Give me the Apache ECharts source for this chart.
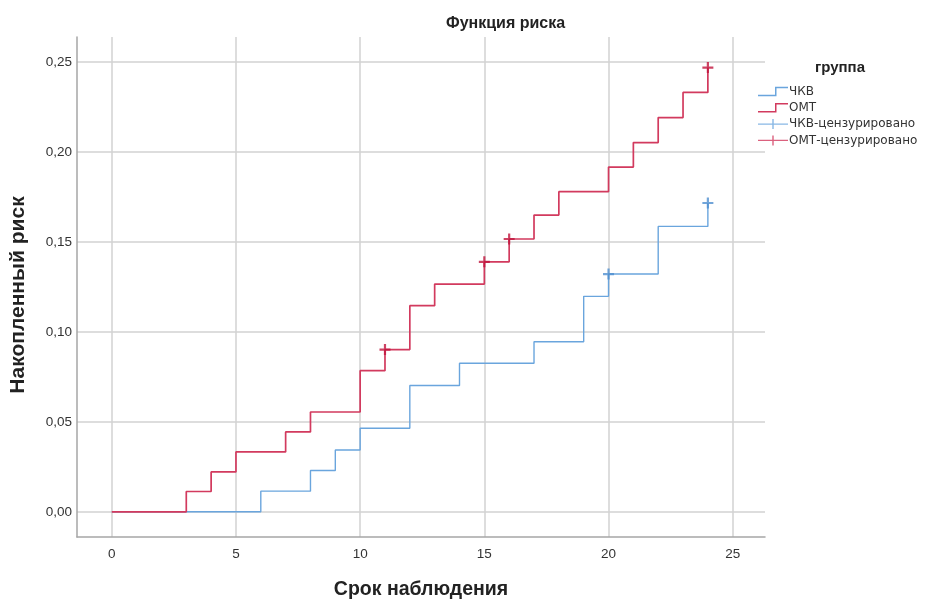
<!DOCTYPE html>
<html>
<head>
<meta charset="utf-8">
<script src="https://cdn.jsdelivr.net/npm/echarts@6/dist/echarts.min.js"></script>
<style>html,body{margin:0;padding:0;background:#fff}#c{width:925px;height:599px}</style>
</head>
<body>
<div id="c"></div>
<script>
// Kaplan-Meier cumulative hazard
const pciTimes   = [0, 6, 8, 9, 10, 12, 14, 17, 19, 20, 22, 24];
const pciRisk    = [0, 0.0115, 0.023, 0.0344, 0.0465, 0.0702, 0.0826, 0.0946, 0.1198, 0.1322, 0.1587, 0.1717];
const omtTimes   = [0, 3, 4, 5, 7, 8, 10, 11, 12, 13, 15, 16, 17, 18, 20, 21, 22, 23, 24];
const omtRisk    = [0, 0.0113, 0.0222, 0.0333, 0.0444, 0.0555, 0.0785, 0.0902, 0.1146, 0.1266, 0.139, 0.1517, 0.165, 0.178, 0.1917, 0.2053, 0.2192, 0.2332, 0.247];
const pciCensT   = [20, 24];
const pciCensR   = [0.1322, 0.1717];
const omtCensT   = [11, 15, 16, 24];
const omtCensR   = [0.0902, 0.139, 0.1517, 0.247];
const xTicks     = [0, 5, 10, 15, 20, 25];
const yTicks     = [0, 0.05, 0.10, 0.15, 0.20, 0.25];
const names      = ['ЧКВ', 'ОМТ', 'ЧКВ-цензурировано', 'ОМТ-цензурировано'];

const zip = (a, b) => a.map((v, i) => [v, b[i]]);
const blue = '#6aa5dd', red = '#d23a5e', blueD = '#4f8fd0', redD = '#c0143c';
const FONT = 'Liberation Sans, Arial, sans-serif';
const stepIcon = 'path://M0,8.5 L17,8.5 L17,0.5 L30,0.5 L30,2 L18.5,2 L18.5,10 L0,10 Z';
const plusIcon = 'path://M0,4.3 L14.3,4.3 L14.3,0 L15.7,0 L15.7,4.3 L30,4.3 L30,5.7 L15.7,5.7 L15.7,10 L14.3,10 L14.3,5.7 L0,5.7 Z';
const plusSym = 'path://M4,0 L6,0 L6,4 L10,4 L10,6 L6,6 L6,10 L4,10 L4,6 L0,6 L0,4 L4,4 Z';

const chart = echarts.init(document.getElementById('c'), null, {renderer: 'canvas'});
chart.setOption({
  animation: false,
  backgroundColor: '#fff',
  textStyle: {fontFamily: FONT},
  title: [
    {text: 'Функция риска', left: 441, top: 11, textStyle: {fontFamily: FONT, fontSize: 16, fontWeight: 'bold', color: '#222'}},
    {text: 'группа', left: 810, top: 55, textStyle: {fontFamily: FONT, fontSize: 15, fontWeight: 'bold', color: '#222'}}
  ],
  legend: {
    orient: 'vertical', left: 753, top: 80.5, itemWidth: 30, itemHeight: 10, itemGap: 4.3,
    textStyle: {fontFamily: 'DejaVu Sans, sans-serif', fontSize: 12, color: '#333', padding: [0, 0, 0, -4]},
    data: [
      {name: names[0], icon: stepIcon, itemStyle: {color: blue}},
      {name: names[1], icon: stepIcon, itemStyle: {color: red}},
      {name: names[2], icon: plusIcon, itemStyle: {color: blue}},
      {name: names[3], icon: plusIcon, itemStyle: {color: red}}
    ]
  },
  grid: {left: 77, top: 37, width: 688, height: 500, containLabel: false, outerBoundsMode: 'none'},
  xAxis: {
    type: 'value', min: -1.4, max: 26.3,
    name: 'Срок наблюдения', nameLocation: 'middle', nameGap: 43,
    nameTextStyle: {fontFamily: FONT, fontSize: 19.5, fontWeight: 'bold', color: '#222'},
    axisLine: {onZero: false, lineStyle: {color: '#a6a6a6', width: 1.5}},
    axisTick: {show: false, customValues: xTicks},
    axisLabel: {customValues: xTicks, margin: 10, fontSize: 13.5, color: '#333', fontFamily: FONT},
    splitLine: {show: true, lineStyle: {color: '#d2d2d2', width: 1.5}}
  },
  yAxis: {
    type: 'value', min: -0.014, max: 0.264,
    name: 'Накопленный риск', nameLocation: 'middle', nameGap: 48,
    nameTextStyle: {fontFamily: FONT, fontSize: 21, fontWeight: 'bold', color: '#222', padding: [0, 16, 0, 0]},
    axisLine: {show: true, onZero: false, lineStyle: {color: '#a6a6a6', width: 1.5}},
    axisTick: {show: false, customValues: yTicks},
    axisLabel: {customValues: yTicks, margin: 5, fontSize: 13.5, color: '#333', fontFamily: FONT,
      formatter: v => v.toFixed(2).replace('.', ',')},
    splitLine: {show: true, lineStyle: {color: '#d2d2d2', width: 1.5}}
  },
  series: [
    {name: names[0], type: 'line', step: 'end', symbol: 'none', data: zip(pciTimes, pciRisk),
     itemStyle: {color: blue}, lineStyle: {color: blue, width: 1.4}, z: 3},
    {name: names[1], type: 'line', step: 'end', symbol: 'none', data: zip(omtTimes, omtRisk),
     itemStyle: {color: red}, lineStyle: {color: red, width: 1.7}, z: 4},
    {name: names[2], type: 'scatter', symbol: plusSym, symbolSize: 11, data: zip(pciCensT, pciCensR),
     itemStyle: {color: blueD}, z: 5},
    {name: names[3], type: 'scatter', symbol: plusSym, symbolSize: 11, data: zip(omtCensT, omtCensR),
     itemStyle: {color: redD}, z: 6}
  ]
});
</script>
</body>
</html>
